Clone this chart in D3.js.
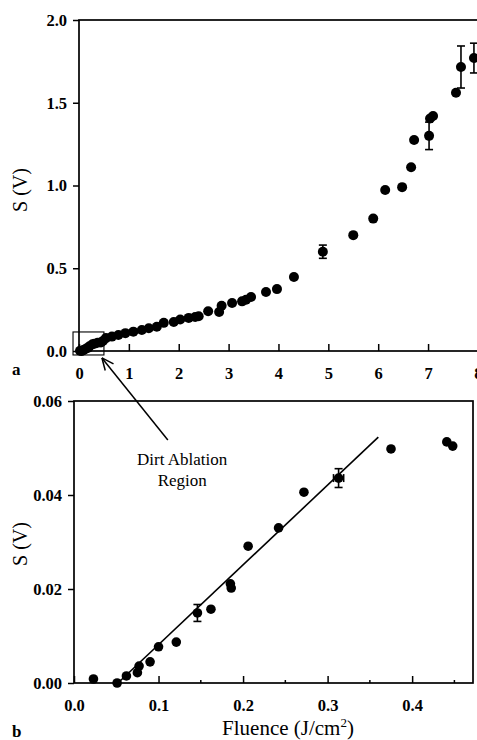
<!DOCTYPE html>
<html>
<head>
<meta charset="utf-8">
<script src="https://cdn.jsdelivr.net/npm/d3@7"></script>
<style>
  body { margin: 0; background: #fff; }
  svg { display: block; }
  text { font-family: "Liberation Serif", "DejaVu Serif", serif; fill: #000; }
</style>
</head>
<body>
<svg id="chart"></svg>
<script>
// panel a: signal vs fluence, full range
let aFluence = [0.02, 0.05, 0.075, 0.1, 0.146, 0.185, 0.21, 0.27, 0.31, 0.375, 0.44, 0.48,
  0.54, 0.66, 0.79, 0.93, 1.09, 1.26, 1.4, 1.56, 1.7, 1.9, 2.03, 2.2, 2.33, 2.4,
  2.59, 2.81, 2.86, 3.07, 3.27, 3.35, 3.45, 3.75, 3.97, 4.31, 4.89, 5.5, 5.9,
  6.14, 6.48, 6.66, 6.72, 7.02, 7.04, 7.1, 7.56, 7.66, 7.92];
let aSignal = [0.001, 0.0, 0.003, 0.008, 0.015, 0.02, 0.029, 0.041, 0.044, 0.05, 0.051, 0.06,
  0.078, 0.087, 0.097, 0.108, 0.117, 0.127, 0.138, 0.147, 0.17, 0.175, 0.19, 0.2, 0.205, 0.21,
  0.24, 0.236, 0.273, 0.29, 0.3, 0.31, 0.326, 0.356, 0.374, 0.447, 0.6, 0.7, 0.8,
  0.973, 0.99, 1.11, 1.275, 1.3, 1.405, 1.42, 1.56, 1.716, 1.77];
let aErrFluence = [4.89, 7.02, 7.66, 7.92];
let aErrSignal = [0.6, 1.3, 1.716, 1.77];
let aErrSize = [0.04, 0.083, 0.127, 0.09];
let aXTicks = [0, 1, 2, 3, 4, 5, 6, 7, 8];
let aYTicks = [0, 0.5, 1.0, 1.5, 2.0];
// zoom box drawn on panel a
let boxFluence = [-0.12, 0.5];
let boxSignal = [-0.024, 0.115];

// panel b: dirt ablation region
let bFluence = [0.023, 0.051, 0.062, 0.075, 0.077, 0.09, 0.1, 0.121, 0.146, 0.162, 0.185,
  0.186, 0.206, 0.242, 0.272, 0.313, 0.375, 0.441, 0.448];
let bSignal = [0.00085, 0.0, 0.0015, 0.0022, 0.0036, 0.0045, 0.0077, 0.0087, 0.0149, 0.0157,
  0.0211, 0.0202, 0.0291, 0.033, 0.0406, 0.0436, 0.0498, 0.0513, 0.0504];
let bErrFluence = [0.146, 0.313];
let bErrSignal = [0.0149, 0.0436];
let bErrSize = [0.0018, 0.002];
let bErrWidth = [0, 0.006];
let fitX = [0.052, 0.36];
let fitY = [0.0, 0.0523];
let bXTicks = [0.0, 0.1, 0.2, 0.3, 0.4];
let bXMinor = [0.05, 0.15, 0.25, 0.35, 0.45];
let bYTicks = [0.0, 0.02, 0.04, 0.06];

let width = 477, height = 740;
let svg = d3.select("#chart").attr("width", width).attr("height", height);
svg.append("rect").attr("width", width).attr("height", height).attr("fill", "#fff");

// scales
let xa = d3.scaleLinear().domain([0, 8.25]).range([79, 490.4]);
let ya = d3.scaleLinear().domain([0, 2.0]).range([351, 20]);
let xb = d3.scaleLinear().domain([0, 0.472]).range([74, 473]);
let yb = d3.scaleLinear().domain([0, 0.06]).range([683, 401]);

function drawFrame(x, y, xTicks, yTicks, xFmt, yFmt) {
  let g = svg.append("g");
  let [x0, x1] = x.range();
  let [y0, y1] = y.range();
  g.append("rect")
    .attr("x", x0).attr("y", y1)
    .attr("width", x1 - x0).attr("height", y0 - y1)
    .attr("fill", "none").attr("stroke", "#000").attr("stroke-width", 1.7);

  // x axis, ticks point inward
  let ax = g.append("g").attr("transform", "translate(0," + y0 + ")")
    .call(d3.axisBottom(x).tickValues(xTicks).tickSize(-7).tickPadding(16).tickFormat(xFmt));
  ax.select(".domain").remove();
  ax.selectAll("line").attr("stroke-width", 1.5);
  ax.selectAll("text").attr("font-size", "16.5px").attr("font-weight", "bold")
    .attr("font-family", "Liberation Serif");

  // y axis, ticks outward
  let ay = g.append("g").attr("transform", "translate(" + x0 + ",0)")
    .call(d3.axisLeft(y).tickValues(yTicks).tickSize(6).tickPadding(6).tickFormat(yFmt));
  ay.select(".domain").remove();
  ay.selectAll("line").attr("stroke-width", 1.5);
  ay.selectAll("text").attr("font-size", "16.5px").attr("font-weight", "bold")
    .attr("font-family", "Liberation Serif");
  return g;
}

function drawErrors(x, y, fx, fy, fd, fw) {
  let g = svg.append("g").attr("stroke", "#000").attr("stroke-width", 1.6);
  fx.forEach((v, i) => {
    let cx = x(v), top = y(fy[i] + fd[i]), bot = y(fy[i] - fd[i]);
    g.append("line").attr("x1", cx).attr("x2", cx).attr("y1", top).attr("y2", bot);
    g.append("line").attr("x1", cx - 4).attr("x2", cx + 4).attr("y1", top).attr("y2", top);
    g.append("line").attr("x1", cx - 4).attr("x2", cx + 4).attr("y1", bot).attr("y2", bot);
    if (fw && fw[i] > 0) {
      let l = x(v - fw[i]), r = x(v + fw[i]), cy = y(fy[i]);
      g.append("line").attr("x1", l).attr("x2", r).attr("y1", cy).attr("y2", cy);
      g.append("line").attr("x1", l).attr("x2", l).attr("y1", cy - 4).attr("y2", cy + 4);
      g.append("line").attr("x1", r).attr("x2", r).attr("y1", cy - 4).attr("y2", cy + 4);
    }
  });
}

// ---------- panel a ----------
drawFrame(xa, ya, aXTicks, aYTicks, d3.format("d"), d3.format(".1f"));

svg.append("rect")
  .attr("x", xa(boxFluence[0])).attr("y", ya(boxSignal[1]))
  .attr("width", xa(boxFluence[1]) - xa(boxFluence[0]))
  .attr("height", ya(boxSignal[0]) - ya(boxSignal[1]))
  .attr("fill", "none").attr("stroke", "#000").attr("stroke-width", 1.1);

drawErrors(xa, ya, aErrFluence, aErrSignal, aErrSize, null);

svg.append("g").selectAll("circle")
  .data(aFluence)
  .join("circle")
  .attr("cx", (d) => xa(d))
  .attr("cy", (d, i) => ya(aSignal[i]))
  .attr("r", 5)
  .attr("fill", "#000");

svg.append("text").attr("x", 12).attr("y", 375)
  .attr("font-size", "17px").attr("font-weight", "bold").text("a");

svg.append("text")
  .attr("transform", "translate(27," + 190 + ") rotate(-90)")
  .attr("text-anchor", "middle")
  .attr("font-size", "20px")
  .text("S (V)");

// ---------- panel b ----------
drawFrame(xb, yb, bXTicks, bYTicks, d3.format(".1f"), d3.format(".2f"));

// minor x ticks on panel b
svg.append("g").selectAll("line")
  .data(bXMinor)
  .join("line")
  .attr("x1", (d) => xb(d)).attr("x2", (d) => xb(d))
  .attr("y1", yb(0)).attr("y2", yb(0) - 3)
  .attr("stroke", "#000").attr("stroke-width", 1.5);

// fit line
svg.append("line")
  .attr("x1", xb(fitX[0])).attr("y1", yb(fitY[0]))
  .attr("x2", xb(fitX[1])).attr("y2", yb(fitY[1]))
  .attr("stroke", "#000").attr("stroke-width", 1.6);

drawErrors(xb, yb, bErrFluence, bErrSignal, bErrSize, bErrWidth);

svg.append("g").selectAll("circle")
  .data(bFluence)
  .join("circle")
  .attr("cx", (d) => xb(d))
  .attr("cy", (d, i) => yb(bSignal[i]))
  .attr("r", 4.8)
  .attr("fill", "#000");

svg.append("text").attr("x", 12).attr("y", 737)
  .attr("font-size", "17px").attr("font-weight", "bold").text("b");

svg.append("text")
  .attr("transform", "translate(27," + 544 + ") rotate(-90)")
  .attr("text-anchor", "middle")
  .attr("font-size", "20px")
  .text("S (V)");

let xl = svg.append("text")
  .attr("x", 288).attr("y", 735)
  .attr("text-anchor", "middle")
  .attr("font-size", "21px");
xl.append("tspan").text("Fluence (J/cm");
xl.append("tspan").attr("font-size", "13px").attr("dy", -8).text("2");
xl.append("tspan").attr("dy", 8).text(")");

// annotation: text in panel b coords, arrow tip on panel a box
let noteX = 0.128;
svg.append("text").attr("x", xb(noteX)).attr("y", yb(0.0464))
  .attr("text-anchor", "middle").attr("font-size", "17px").text("Dirt Ablation");
svg.append("text").attr("x", xb(noteX)).attr("y", yb(0.0419))
  .attr("text-anchor", "middle").attr("font-size", "17px").text("Region");

let tail = [xb(0.111), yb(0.0517)];
let tip = [xa(0.46), ya(-0.042)];
svg.append("line")
  .attr("x1", tail[0]).attr("y1", tail[1])
  .attr("x2", tip[0]).attr("y2", tip[1])
  .attr("stroke", "#000").attr("stroke-width", 1.5);
let ang = Math.atan2(tail[1] - tip[1], tail[0] - tip[0]);
[-0.42, 0.42].forEach((da) => {
  svg.append("line")
    .attr("x1", tip[0]).attr("y1", tip[1])
    .attr("x2", tip[0] + 13 * Math.cos(ang + da))
    .attr("y2", tip[1] + 13 * Math.sin(ang + da))
    .attr("stroke", "#000").attr("stroke-width", 1.5);
});
</script>
</body>
</html>
